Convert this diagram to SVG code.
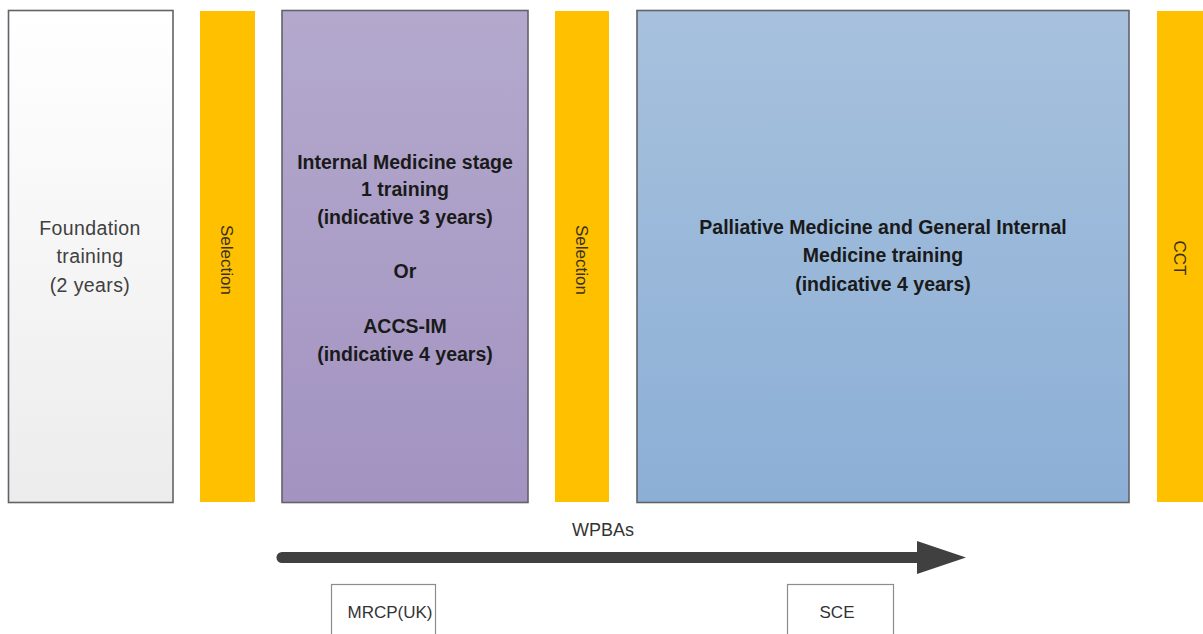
<svg xmlns="http://www.w3.org/2000/svg" width="1203" height="634" viewBox="0 0 1203 634">
<defs>
<linearGradient id="gFound" x1="0" y1="0" x2="0" y2="1"><stop offset="0" stop-color="#ffffff"/><stop offset="1" stop-color="#ececec"/></linearGradient>
<linearGradient id="gPurple" x1="0" y1="0" x2="0" y2="1"><stop offset="0" stop-color="#b4a9cd"/><stop offset="1" stop-color="#a293c1"/></linearGradient>
<linearGradient id="gBlue" x1="0" y1="0" x2="0" y2="1"><stop offset="0" stop-color="#a7c1dd"/><stop offset="1" stop-color="#8cafd6"/></linearGradient>
</defs>
<style>
.box{stroke:#626268;stroke-width:1.6}
.bar{fill:#ffc000}
.reg{font-family:"Liberation Sans",Arial,sans-serif;font-size:19.5px;letter-spacing:0.4px;fill:#404040;text-anchor:middle}
.bold{font-family:"Liberation Sans",Arial,sans-serif;font-size:19.5px;font-weight:bold;fill:#1a1a1a;text-anchor:middle}
.rot{font-family:"Liberation Sans",Arial,sans-serif;font-size:17px;fill:#3a3020;text-anchor:middle}
.small{font-family:"Liberation Sans",Arial,sans-serif;font-size:17px;fill:#333;text-anchor:middle}
.exam{fill:#ffffff;stroke:#8c8c8c;stroke-width:1.2}
</style>
<rect width="1203" height="634" fill="#ffffff"/>
<g id="foundation">
<rect class="box" x="8.5" y="10.5" width="164.5" height="492" fill="url(#gFound)"/>
<text class="reg" x="90" y="235">Foundation</text>
<text class="reg" x="90" y="263">training</text>
<text class="reg" x="90" y="292">(2 years)</text>
</g>
<g id="selection1">
<rect class="bar" x="200" y="11" width="55" height="491"/>
<text class="rot" transform="translate(227 260) rotate(90)" y="6">Selection</text>
</g>
<g id="im-stage1">
<rect class="box" x="282" y="10.5" width="246" height="492" fill="url(#gPurple)"/>
<text class="bold" x="405" y="169">Internal Medicine stage</text>
<text class="bold" x="405" y="196">1 training</text>
<text class="bold" x="405" y="224">(indicative 3 years)</text>
<text class="bold" x="405" y="278">Or</text>
<text class="bold" x="405" y="333">ACCS-IM</text>
<text class="bold" x="405" y="361">(indicative 4 years)</text>
</g>
<g id="selection2">
<rect class="bar" x="555" y="11" width="54" height="491"/>
<text class="rot" transform="translate(582 260) rotate(90)" y="6">Selection</text>
</g>
<g id="palliative">
<rect class="box" x="637" y="10.5" width="492" height="492" fill="url(#gBlue)"/>
<text class="bold" x="883" y="234">Palliative Medicine and General Internal</text>
<text class="bold" x="883" y="262">Medicine training</text>
<text class="bold" x="883" y="291">(indicative 4 years)</text>
</g>
<g id="cct">
<rect class="bar" x="1157" y="11" width="46" height="491"/>
<text class="rot" transform="translate(1180 258) rotate(90)" y="6">CCT</text>
</g>
<g id="connectors">
<line x1="282" y1="557.5" x2="920" y2="557.5" stroke="#404040" stroke-width="11" stroke-linecap="round"/>
<polygon points="917,541 966,557.5 917,574" fill="#404040"/>
<text class="small" x="603" y="536" style="font-size:18px">WPBAs</text>
</g>
<g id="mrcp">
<rect class="exam" x="331.5" y="584.5" width="104" height="60"/>
<text class="small" x="390" y="618">MRCP(UK)</text>
</g>
<g id="sce">
<rect class="exam" x="787.5" y="584.5" width="106" height="60"/>
<text class="small" x="837" y="618">SCE</text>
</g>
</svg>
